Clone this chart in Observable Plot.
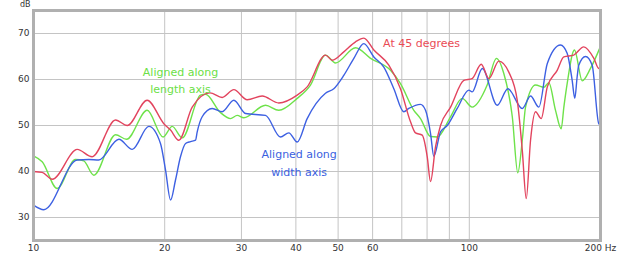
<!DOCTYPE html>
<html><head><meta charset="utf-8">
<script src="https://cdn.jsdelivr.net/npm/d3@7"></script>
<script src="https://cdn.jsdelivr.net/npm/@observablehq/plot@0.6"></script>
<style>body{margin:0;background:#fff;}</style>
</head><body><div id="chart"></div>
<script>
const xTicks = [10, 20, 30, 40, 50, 60, 70, 80, 90, 100, 200];
const xGrid = [20, 30, 40, 50, 60, 70, 80, 90, 100];
const yTicks = [30, 40, 50, 60, 70];

const freqRed = [10.0,10.47,11.04,12.6,13.63,15.43,16.41,18.23,19.91,20.63,21.55,23.13,25.4,27.1,28.82,30.93,33.48,36.55,40.28,42.46,46.77,48.46,51.52,54.82,57.28,60.39,65.36,69.51,73.3,75.26,77.97,80.07,81.47,83.66,85.89,90.57,97.14,101.5,106.5,110.9,116.9,123.2,128.8,132.3,135.1,138.2,141.9,146.2,151.0,159.1,164.8,173.6,183.1,193.1,198.2,200];
const dbRed = [40.0,39.8,38.3,44.8,43.2,51.2,50.0,55.5,50.4,49.0,46.8,54.0,57.1,56.1,57.8,55.6,56.4,54.9,56.6,58.4,65.3,64.2,66.0,68.2,69.0,66.4,63.1,58.0,50.8,48.4,47.9,43.2,37.8,45.4,50.0,54.0,59.8,60.2,63.3,60.2,64.0,61.6,55.5,44.6,34.1,46.8,53.0,51.5,58.4,62.0,64.9,65.3,67.1,64.6,62.4,62.6];

const freqGreen = [10.0,10.47,11.33,12.48,13.04,13.75,15.43,16.35,18.23,19.84,20.81,21.94,24.16,24.81,26.86,28.32,29.34,30.38,34.07,36.55,40.28,43.21,46.77,49.32,54.82,59.34,65.95,69.51,74.59,77.27,81.47,84.4,90.57,96.31,101.5,109.9,115.4,120.0,125.5,129.2,132.3,134.6,141.9,148.3,152.2,157.7,162.5,164.8,167.7,174.3,181.6,189.7,200];
const dbGreen = [43.4,42.1,36.3,42.6,42.3,39.2,48.0,47.0,53.3,47.5,49.8,47.3,56.6,56.8,52.8,51.5,52.2,51.7,54.4,53.3,55.9,58.8,65.3,63.6,66.9,64.6,62.0,59.1,53.3,51.5,47.6,47.5,51.9,55.9,54.0,58.8,64.6,61.3,51.9,39.7,46.8,54.0,58.8,58.3,59.3,53.3,49.3,54.0,59.1,66.4,59.7,62.4,67.2];

const freqBlue = [10.0,10.56,12.6,13.39,14.12,15.7,16.85,18.39,19.56,20.09,20.63,21.17,21.74,22.33,22.93,23.54,23.75,24.38,25.71,27.1,28.82,30.66,34.07,36.88,38.53,40.28,42.46,46.77,48.87,51.52,54.33,57.28,60.39,63.66,67.11,70.74,72.64,77.27,79.35,81.47,82.9,85.89,89.0,93.81,99.75,101.5,107.1,115.9,122.6,132.3,138.2,144.4,151.0,161.9,167.7,172.2,174.6,176.8,178.3,184.8,191.4,198.2,200];
const dbBlue = [32.7,31.7,42.5,42.6,42.5,47.0,44.8,49.8,46.1,40.3,33.8,38.1,43.2,46.1,46.5,46.8,48.6,51.9,53.7,53.0,55.5,52.6,52.2,47.5,48.4,46.4,51.5,57.0,58.0,60.9,64.6,67.8,64.9,62.7,58.0,53.0,53.7,54.6,53.3,48.3,43.3,48.6,50.0,53.7,57.7,57.3,62.4,54.4,58.0,53.7,56.4,54.0,63.5,67.5,65.7,59.8,55.9,60.6,63.1,65.0,63.1,50.4,50.2];

const labelText = ["Aligned along\nlength axis", "Aligned along\nwidth axis", "At 45 degrees"];
const labelFreq = [21.74, 40.7, 77.7];
const labelDb = [60.1, 42.2, 68.4];
const labelColor = ["#6be046", "#3b5fe0", "#ea4b55"];

const seriesColor = {red: "#e2445e", green: "#6ee24a", blue: "#3d60e2"};

function toRows(f, v, s) { return f.map((d, i) => ({freq: d, db: v[i], s})); }
const rows = [...toRows(freqGreen, dbGreen, "green"), ...toRows(freqBlue, dbBlue, "blue"), ...toRows(freqRed, dbRed, "red")];
const labels = labelText.map((t, i) => ({t, f: labelFreq[i], d: labelDb[i], c: labelColor[i]}));

const chart = Plot.plot({
  width: 640,
  height: 255,
  marginLeft: 33,
  marginRight: 40,
  marginTop: 10,
  marginBottom: 15,
  style: {fontFamily: "DejaVu Sans", fontSize: "9px", color: "#333", background: "#fff"},
  x: {type: "log", domain: [10, 200]},
  y: {domain: [25, 75]},
  marks: [
    Plot.gridX(xGrid, {stroke: "#c4c4c4", strokeOpacity: 1, strokeWidth: 1}),
    Plot.gridY(yTicks, {stroke: "#c4c4c4", strokeOpacity: 1, strokeWidth: 1}),
    Plot.axisX(xTicks, {tickSize: 0, tickPadding: 4, tickFormat: d => d === 200 ? "200 Hz" : String(d), label: null, fill: "#333"}),
    Plot.axisY(yTicks, {tickSize: 0, tickPadding: 4, label: null, fill: "#333"}),
    Plot.text(["dB"], {frameAnchor: "top-left", dx: -3, dy: -6, textAnchor: "end", lineAnchor: "middle", fontSize: 8, fill: "#333"}),
    Plot.line(rows, {x: "freq", y: "db", z: "s", stroke: d => seriesColor[d.s], strokeWidth: 1.4, curve: "monotone-x"}),
    Plot.text(labels, {x: "f", y: "d", text: "t", fill: "c", fontSize: 11, lineHeight: 1.6, lineAnchor: "middle"}),
    Plot.frame({stroke: "#b0b0b0", strokeWidth: 3})
  ]
});
document.getElementById("chart").append(chart);
</script>
</body></html>
